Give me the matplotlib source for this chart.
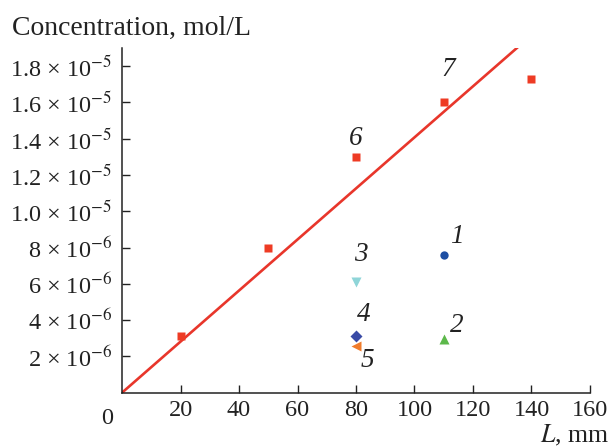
import numpy as np
import matplotlib
matplotlib.use("Agg")
import matplotlib.pyplot as plt
from matplotlib.ticker import FuncFormatter

plt.rcParams['font.family'] = ['Liberation Serif', 'DejaVu Serif']
plt.rcParams['mathtext.fontset'] = 'stix'

# series 6/7: red squares and fitted line
L_red = [20, 50, 80, 110, 140]
c_red = [3.1e-6, 8.0e-6, 13.0e-6, 16.0e-6, 17.3e-6]
fit_x = [0, 136.4]
slope = 1.407e-7

# single points 1-5
pts_L = [110, 110, 80, 80, 80]
pts_c = [7.6e-6, 2.95e-6, 6.1e-6, 3.15e-6, 2.55e-6]
pts_marker = ['o', '^', 'v', 'D', '<']
pts_color = ['#1d4ea3', '#5cb84a', '#8fd5d8', '#3a4ba6', '#f07c2c']
pts_size = [6, 7, 7, 6, 7]

# curve labels
lab_text = ['1', '2', '3', '4', '5', '6', '7']
lab_x = [114.5, 114.5, 81.5, 82.5, 84, 80, 111.5]
lab_y = [8.6e-6, 3.7e-6, 7.6e-6, 4.3e-6, 1.75e-6, 14.0e-6, 17.8e-6]

xticks = [20, 40, 60, 80, 100, 120, 140, 160]
yticks = [2e-6, 4e-6, 6e-6, 8e-6, 1.0e-5, 1.2e-5, 1.4e-5, 1.6e-5, 1.8e-5]

fig = plt.figure(figsize=(6.12, 4.48), dpi=100)
ax = fig.add_axes([122/612, 1 - 392.7/448, (590-122)/612, (392.7-47.9)/448])

ax.plot(fit_x, [slope*x for x in fit_x], color='#e8362b', lw=1.9, solid_capstyle='butt')
ax.plot(L_red, c_red, 's', color='#ee3b24', ms=6, mec='none')
for x, y, m, col, s in zip(pts_L, pts_c, pts_marker, pts_color, pts_size):
    ax.plot(x, y, m, color=col, ms=s, mec='none')
for t, x, y in zip(lab_text, lab_x, lab_y):
    ax.text(x, y, t, fontsize=19.5, style='italic', ha='center', va='center', color='#222222')

ax.set_xlim(0, 160)
ax.set_ylim(0, 1.9e-5)
ax.set_xticks(xticks)
ax.set_yticks(yticks)


def fmt(v, pos):
    e = int(np.floor(np.log10(v) + 1e-9))
    m = v / 10**e
    if e == -6:
        return "%d × 10$^{-6}$" % round(m)
    return "%.1f × 10$^{%d}$" % (m, e)


ax.yaxis.set_major_formatter(FuncFormatter(fmt))
ax.tick_params(direction='in', length=6, width=1, labelsize=17.5, colors='#222222', pad=5)
ax.tick_params(axis='y', pad=7)
for s in ['top', 'right']:
    ax.spines[s].set_visible(False)
for s in ['left', 'bottom']:
    ax.spines[s].set_linewidth(1.1)
    ax.spines[s].set_color('#222222')

ax.text(-0.032, -0.045, '0', transform=ax.transAxes, fontsize=17.5, ha='center', va='top', color='#222222')
fig.text(12/612, 1 - 35/448, 'Concentration, mol/L', fontsize=20, color='#222222', va='baseline')
fig.text(0.995, 1 - 442/448, r'$L$, mm', fontsize=18.5, color='#222222', ha='right', va='baseline')

fig.savefig('out.png', dpi=100)
